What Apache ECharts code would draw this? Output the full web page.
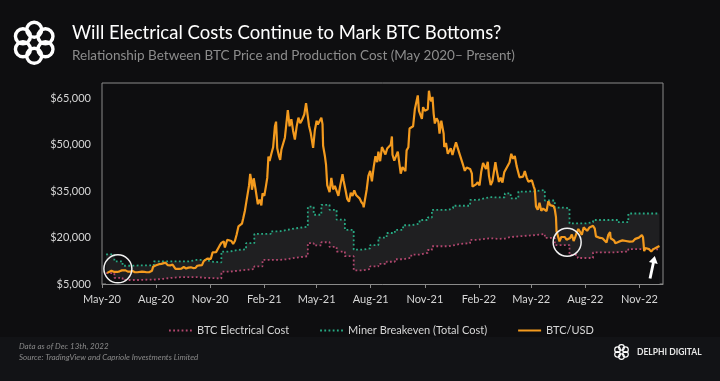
<!DOCTYPE html>
<html><head><meta charset="utf-8">
<script src="https://cdn.jsdelivr.net/npm/echarts@6/dist/echarts.min.js"></script>
<style>html,body{margin:0;padding:0;background:#0e0e10;}#c{width:720px;height:381px;}</style>
</head><body><div id="c"></div>
<script>
// ---------- DATA ----------
const btcDates = [
'2020-05-10','2020-05-11','2020-05-13','2020-05-17','2020-05-20','2020-05-22','2020-05-25','2020-05-27','2020-05-31',
'2020-06-01','2020-06-04','2020-06-07','2020-06-10','2020-06-14','2020-06-18','2020-06-22','2020-06-26','2020-06-30',
'2020-07-03','2020-07-08','2020-07-12','2020-07-16','2020-07-20','2020-07-22','2020-07-25','2020-07-27','2020-07-31',
'2020-08-02','2020-08-06','2020-08-10','2020-08-13','2020-08-17','2020-08-21','2020-08-25','2020-08-29',
'2020-09-01','2020-09-03','2020-09-05','2020-09-09','2020-09-13','2020-09-17','2020-09-21','2020-09-25','2020-09-29',
'2020-10-03','2020-10-07','2020-10-10','2020-10-14','2020-10-18','2020-10-21','2020-10-24','2020-10-27','2020-10-30',
'2020-11-02','2020-11-05','2020-11-08','2020-11-11','2020-11-14','2020-11-17','2020-11-20','2020-11-24','2020-11-26','2020-11-30',
'2020-12-03','2020-12-07','2020-12-10','2020-12-13','2020-12-16','2020-12-19','2020-12-22','2020-12-25','2020-12-27','2020-12-30',
'2021-01-02','2021-01-04','2021-01-06','2021-01-08','2021-01-10','2021-01-11','2021-01-13','2021-01-14','2021-01-17','2021-01-19','2021-01-21','2021-01-24','2021-01-27','2021-01-29',
'2021-02-01','2021-02-04','2021-02-06','2021-02-08','2021-02-10','2021-02-13','2021-02-16','2021-02-19','2021-02-21','2021-02-23','2021-02-26','2021-02-28',
'2021-03-02','2021-03-05','2021-03-08','2021-03-10','2021-03-13','2021-03-16','2021-03-19','2021-03-22','2021-03-25','2021-03-28','2021-03-31',
'2021-04-03','2021-04-06','2021-04-10','2021-04-13','2021-04-15','2021-04-18','2021-04-21','2021-04-25','2021-04-28',
'2021-05-01','2021-05-03','2021-05-06','2021-05-09','2021-05-11','2021-05-12','2021-05-15','2021-05-17','2021-05-19','2021-05-21','2021-05-23','2021-05-26','2021-05-29',
'2021-06-01','2021-06-04','2021-06-07','2021-06-10','2021-06-14','2021-06-16','2021-06-19','2021-06-22','2021-06-25','2021-06-28',
'2021-07-01','2021-07-04','2021-07-07','2021-07-10','2021-07-13','2021-07-16','2021-07-19','2021-07-20','2021-07-22','2021-07-25','2021-07-28','2021-07-31',
'2021-08-03','2021-08-06','2021-08-09','2021-08-12','2021-08-14','2021-08-17','2021-08-20','2021-08-23','2021-08-26','2021-08-29',
'2021-09-01','2021-09-04','2021-09-06','2021-09-07','2021-09-10','2021-09-13','2021-09-16','2021-09-19','2021-09-21','2021-09-24','2021-09-27','2021-09-29',
'2021-10-01','2021-10-04','2021-10-06','2021-10-09','2021-10-12','2021-10-15','2021-10-17','2021-10-20','2021-10-22','2021-10-24','2021-10-27','2021-10-29',
'2021-11-01','2021-11-04','2021-11-06','2021-11-08','2021-11-10','2021-11-12','2021-11-14','2021-11-16','2021-11-18','2021-11-21','2021-11-24','2021-11-26','2021-11-29',
'2021-12-01','2021-12-03','2021-12-04','2021-12-07','2021-12-10','2021-12-13','2021-12-15','2021-12-18','2021-12-21','2021-12-24','2021-12-27','2021-12-30',
'2022-01-02','2022-01-05','2022-01-08','2022-01-11','2022-01-14','2022-01-17','2022-01-20','2022-01-21','2022-01-24','2022-01-27','2022-01-30',
'2022-02-02','2022-02-05','2022-02-08','2022-02-10','2022-02-13','2022-02-16','2022-02-18','2022-02-21','2022-02-24','2022-02-27',
'2022-03-01','2022-03-03','2022-03-07','2022-03-10','2022-03-13','2022-03-16','2022-03-19','2022-03-22','2022-03-25','2022-03-28','2022-03-31',
'2022-04-03','2022-04-06','2022-04-09','2022-04-11','2022-04-14','2022-04-17','2022-04-20','2022-04-23','2022-04-26','2022-04-29',
'2022-05-02','2022-05-05','2022-05-07','2022-05-09','2022-05-12','2022-05-15','2022-05-18','2022-05-21','2022-05-24','2022-05-27','2022-05-30',
'2022-06-02','2022-06-05','2022-06-08','2022-06-10','2022-06-12','2022-06-13','2022-06-15','2022-06-18','2022-06-21','2022-06-24','2022-06-27','2022-06-30',
'2022-07-03','2022-07-06','2022-07-09','2022-07-12','2022-07-15','2022-07-18','2022-07-20','2022-07-23','2022-07-26','2022-07-29',
'2022-08-01','2022-08-04','2022-08-08','2022-08-11','2022-08-14','2022-08-17','2022-08-19','2022-08-22','2022-08-26','2022-08-30',
'2022-09-02','2022-09-06','2022-09-09','2022-09-12','2022-09-13','2022-09-16','2022-09-19','2022-09-21','2022-09-24','2022-09-27','2022-09-30',
'2022-10-03','2022-10-06','2022-10-09','2022-10-12','2022-10-15','2022-10-18','2022-10-21','2022-10-25','2022-10-28','2022-10-31',
'2022-11-03','2022-11-05','2022-11-07','2022-11-08','2022-11-09','2022-11-11','2022-11-14','2022-11-17','2022-11-21','2022-11-24','2022-11-27','2022-11-30',
'2022-12-03','2022-12-05'
];
const btcPrice = [
8600,8500,9000,9300,9200,8900,8600,8900,9100,
9700,9400,9300,9400,9000,9000,9200,8800,8800,
8800,9000,8900,8800,8800,9100,9300,10600,11000,
10800,11400,11500,11100,11900,11100,11000,11300,
11500,9900,9800,9900,9950,10500,10000,10300,10400,
10150,10200,10900,11000,11100,12400,12600,13200,13400,
13100,15200,15100,15300,15700,17400,18300,18800,16800,19300,
18900,18900,18000,18900,21000,23600,23500,24500,26100,28700,
32200,31900,36800,40600,38300,35500,37400,39200,35800,36100,30800,32300,30400,34300,
33500,36900,39300,46200,44800,47100,49200,55900,57500,48900,46300,45100,
48400,48800,52300,55900,61200,56000,58300,54500,51700,55900,58800,
57000,58000,59800,63500,63100,56200,53800,49000,54800,
57800,56600,56400,58800,56700,49700,46400,43500,37000,37300,34700,39300,35600,
36700,36900,33500,36700,40500,38300,35500,32500,31600,34500,
33500,35300,33800,33800,32700,31500,30800,29800,32100,35400,40000,41600,
38200,42800,46300,44400,47800,44700,49300,49500,46900,48800,
48800,50000,52700,46800,44900,44900,47800,47300,40700,42800,42200,41500,
48200,49200,55300,54700,56000,61500,61500,66000,61000,61000,58400,62200,
61000,61400,61500,67500,65000,64100,65500,60100,56900,58600,57500,53600,57800,
57200,53600,49300,50600,47100,46700,48900,46700,48900,50800,50800,47100,
47300,43500,41600,42700,43100,42200,40700,36500,36700,37200,37900,
36900,41400,44100,43600,42200,44500,40000,37000,38300,37700,
44400,42000,38000,39400,37800,41100,42200,42400,44300,47100,45500,
46400,43200,42800,39500,39900,39700,41500,39500,38100,38600,
38500,36600,35500,30100,29000,31300,28700,29400,29100,28600,31800,
30500,29900,30200,29100,26600,22000,21800,18800,20200,20700,20200,19300,
18800,19900,21000,18900,20300,21900,22800,22300,20900,23300,
22800,22200,23300,23400,23800,22900,20400,21000,19900,19800,
19300,18400,20900,21800,19800,19200,19000,18200,18500,18700,18900,
19100,19500,18900,18700,18700,18900,18800,19600,20100,20000,
19800,20800,20100,18000,15600,16600,16200,16300,15500,16200,16100,16800,
16700,17300
];
const costDates = [
'2020-05-08','2020-05-22','2020-06-05','2020-06-19','2020-07-03','2020-07-17','2020-07-28','2020-08-14','2020-08-28','2020-09-11','2020-09-25','2020-10-09','2020-10-23','2020-11-06','2020-11-20','2020-12-04','2020-12-18',
'2021-01-01','2021-01-15','2021-01-29','2021-02-12','2021-02-26','2021-03-12','2021-03-26','2021-04-16','2021-04-26','2021-05-09','2021-05-23','2021-06-04','2021-06-18','2021-07-03','2021-07-17','2021-07-31','2021-08-14','2021-08-28','2021-09-11','2021-09-25','2021-10-09','2021-10-23','2021-11-06','2021-11-13','2021-11-27','2021-12-11','2021-12-19',
'2022-01-02','2022-01-17','2022-01-31','2022-02-06','2022-02-20','2022-03-06','2022-03-17','2022-03-27','2022-04-09','2022-04-23','2022-05-07','2022-05-24','2022-06-10','2022-06-24','2022-07-05','2022-07-19','2022-08-02','2022-08-14','2022-08-28','2022-09-11','2022-09-25','2022-10-13','2022-10-27','2022-11-10','2022-11-24','2022-12-05'
];
const elecCost = [
8500,7000,6300,6300,6400,6400,6700,7000,7200,7250,7250,7000,6900,6800,9000,9300,9600,
9800,10700,12800,12800,13000,13500,14000,18200,17500,18500,17000,15500,14000,9400,9800,10700,11500,12200,13000,13500,14500,15100,16000,17200,17200,17500,18000,
18200,19300,19500,19800,19600,19700,20200,20400,20600,20800,21200,19900,17600,17600,14400,13400,13400,15200,15200,15300,15500,16300,16300,16200,16200,16200
];
const breakeven = [
14600,12300,10900,11000,11000,11000,12300,12300,12300,12300,12800,12800,12200,12000,15500,16000,16200,
18200,21200,21200,22000,22500,23000,23500,30000,27400,30600,29000,25800,22500,16100,16500,17600,20000,21500,22500,24000,24500,25700,26500,29000,29000,29500,30300,
30300,32200,32500,33100,33000,33000,34300,32700,34900,35000,35400,32000,29700,29500,24600,24600,25000,25700,25700,25700,25000,27800,27800,27800,27800,27800
];
const xTickDates = ['2020-05-01','2020-08-01','2020-11-01','2021-02-01','2021-05-01','2021-08-01','2021-11-01','2022-02-01','2022-05-01','2022-08-01','2022-11-01'];
const yTickValues = [5000,20000,35000,50000,65000];
const xRange = ['2020-05-01','2022-12-11'];
const yRange = [5000,70000];
const circleMarks = [['2020-05-28',9900],['2022-07-01',18500]];
const arrowMark = ['2022-11-23',10400];
const seriesNames = ['BTC Electrical Cost','Miner Breakeven (Total Cost)','BTC/USD'];

// ---------- BUILD ----------
const ts = s => Date.parse(s + 'T00:00:00Z');
const MON = ['Jan','Feb','Mar','Apr','May','Jun','Jul','Aug','Sep','Oct','Nov','Dec'];
const pair = (dates, vals) => dates.map((d,i) => [ts(d), vals[i]]);
const FONT = 'Lato';
const BG = '#0e0e10';
const C_ORANGE = '#f39a1e', C_GREEN = '#27a983', C_PINK = '#b2476f', C_BAND = '#1f1f21', C_AXIS = '#8a8a8a', C_TXT = '#d6d6d6';

function logo(cx, cy, rc, rl, lw) {
  const ch = [];
  for (let k = 0; k < 6; k++) {
    const a = k * Math.PI / 3 + Math.PI / 6;
    ch.push({type:'circle', shape:{cx: cx + rc*Math.cos(a), cy: cy + rc*Math.sin(a), r: rl},
      style:{fill:'none', stroke:'#ffffff', lineWidth: lw}});
  }
  return {type:'group', children: ch};
}

const chart = echarts.init(document.getElementById('c'), null, {renderer:'canvas'});
chart.setOption({
  backgroundColor: BG,
  animation: false,
  textStyle: {fontFamily: FONT},
  grid: {left:102, right:57, top:83, bottom:97, show:true, borderColor:C_AXIS, borderWidth:1, backgroundColor:'transparent'},
  xAxis: {
    type:'value', min: ts(xRange[0]), max: ts(xRange[1]),
    splitLine:{show:false},
    axisLine:{show:true, lineStyle:{color:C_AXIS}},
    axisTick:{show:true, length:4, lineStyle:{color:C_AXIS}, customValues: xTickDates.map(ts)},
    axisLabel:{color:C_TXT, fontSize:11, fontFamily:FONT, margin:10, customValues: xTickDates.map(ts),
      formatter: v => { const d = new Date(v); return MON[d.getUTCMonth()] + '-' + String(d.getUTCFullYear()).slice(2); }}
  },
  yAxis: {
    type:'value', min: yRange[0], max: yRange[1],
    splitLine:{show:false}, axisLine:{show:false}, axisTick:{show:false},
    axisLabel:{color:C_TXT, fontSize:11, fontFamily:FONT, margin:11, customValues: yTickValues,
      formatter: v => '$' + v.toLocaleString('en-US')}
  },
  legend: {
    data: seriesNames, left:163, top:320, itemGap:30, itemWidth:23, itemHeight:10,
    itemStyle:{opacity:0},
    textStyle:{color:C_TXT, fontSize:11, fontFamily:FONT}
  },
  series: [
    {type:'line', name:'bandTop', step:'end', symbol:'none', silent:true,
      data: pair(costDates, breakeven), lineStyle:{opacity:0},
      areaStyle:{color:C_BAND, opacity:1, origin:'start'}, z:1},
    {type:'line', name:'bandCover', step:'end', symbol:'none', silent:true,
      data: pair(costDates, elecCost), lineStyle:{opacity:0},
      areaStyle:{color:BG, opacity:1, origin:'start'}, z:2},
    {type:'line', name:seriesNames[0], step:'end', symbol:'none', data: pair(costDates, elecCost),
      itemStyle:{color:C_PINK}, lineStyle:{color:C_PINK, width:1.8, type:[1.8,2.4]}, z:3},
    {type:'line', name:seriesNames[1], step:'end', symbol:'none', data: pair(costDates, breakeven),
      itemStyle:{color:C_GREEN}, lineStyle:{color:C_GREEN, width:1.8, type:[1.8,2.4]}, z:3},
    {type:'line', name:seriesNames[2], symbol:'none', data: pair(btcDates, btcPrice),
      itemStyle:{color:C_ORANGE}, lineStyle:{color:C_ORANGE, width:2.2}, z:4,
      markPoint:{silent:true, label:{show:false}, data: [
        ...circleMarks.map(m => ({coord:[ts(m[0]), m[1]], symbol:'circle', symbolSize:28,
          itemStyle:{color:'rgba(0,0,0,0)', borderColor:'#f2f2f2', borderWidth:1.5}})),
        {coord:[ts(arrowMark[0]), arrowMark[1]], symbol:'path://M5,0 L10,8 L6.6,8 L6.6,26 L3.4,26 L3.4,8 L0,8 Z',
          symbolSize:[9,23], symbolRotate:-12, symbolKeepAspect:false, itemStyle:{color:'#ffffff'}}
      ]}}
  ],
  graphic: [
    {type:'rect', shape:{x:0, y:337, width:720, height:44}, style:{fill:'#121316'}, z:-1},
    logo(34.2, 42.8, 13, 7.5, 3.4),
    {type:'text', x:72, y:33.5, style:{text:'Will Electrical Costs Continue to Mark BTC Bottoms?', fill:'#ffffff',
      font:'18.5px Lato', verticalAlign:'middle'}},
    {type:'text', x:72, y:56, style:{text:'Relationship Between BTC Price and Production Cost (May 2020\u2013 Present)', fill:'#8c8c8c',
      font:'13.5px Lato', verticalAlign:'middle'}},
    {type:'text', x:19, y:346, style:{text:'Data as of Dec 13th, 2022', fill:'#8a8a8a', font:'italic 8px Lato', verticalAlign:'middle'}},
    {type:'text', x:19, y:357, style:{text:'Source: TradingView and Capriole Investments Limited', fill:'#8a8a8a', font:'italic 8px Lato', verticalAlign:'middle'}},
    logo(621.5, 352, 4.6, 2.8, 1.2),
    {type:'text', x:637, y:352.5, style:{text:'DELPHI DIGITAL', fill:'#e6e6e6', font:'bold 8.5px Lato', verticalAlign:'middle'}}
  ]
});
</script>
</body></html>
